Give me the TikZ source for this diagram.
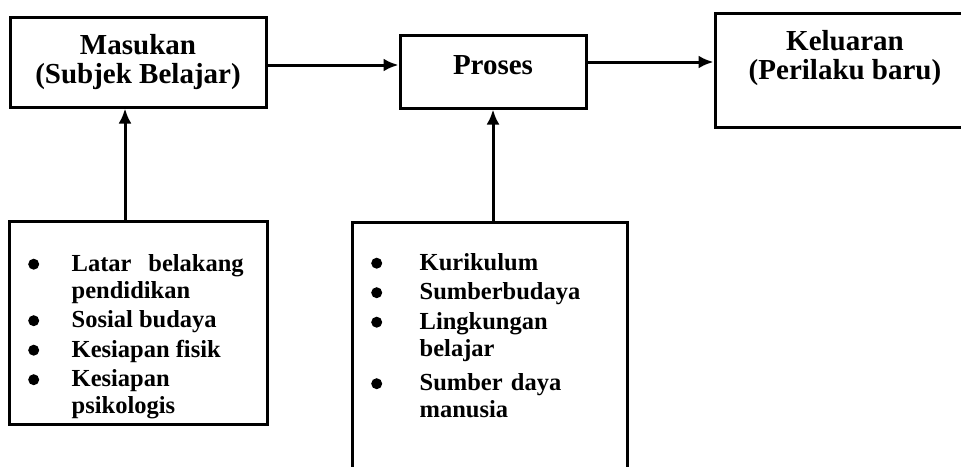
\documentclass[tikz,border=0pt]{standalone}
\usepackage{fontspec}
\setmainfont{Liberation Serif}
\usepackage{enumitem}
\usetikzlibrary{shapes,arrows.meta,positioning}
\hyphenpenalty=10000
\exhyphenpenalty=10000
\newcommand{\dotmark}{\tikz[baseline=-7pt]\fill (0,0) circle (5.5pt);}
\setlist[itemize]{label=\dotmark, itemsep=2.5pt, parsep=0pt, topsep=0pt, partopsep=0pt}
\tikzstyle{block} = [draw, rectangle, fill=white, line width=3pt, inner sep=0pt, align=center, font=\bfseries\fontsize{29}{29}\selectfont]
\tikzstyle{input} = [inner sep=0pt, align=center, font=\bfseries\fontsize{29}{29}\selectfont]
\tikzstyle{items} = [anchor=north west, inner sep=0pt, font=\bfseries\fontsize{24.5}{27}\selectfont]

\begin{document}
\begin{tikzpicture}[x=1pt, y=-1pt, line width=3pt, >={Latex[length=15pt,width=13pt]}]
    \useasboundingbox (0,0) rectangle (961,466);
    \clip (0,0) rectangle (961,466);

    \node [block, minimum width=256pt, minimum height=90pt] (masukan) at (138,62) {Masukan\\(Subjek Belajar)};
    \node [block, minimum width=186pt, minimum height=73pt, text depth=12pt] (proses) at (493,71.5) {Proses};
    \node [block, minimum width=260pt, minimum height=114pt] (keluaran) at (845,70) {};
    \node [input] (keluarantext) at ([yshift=12pt]keluaran.center) {Keluaran\\(Perilaku baru)};
    \draw [->] ([yshift=-3pt]masukan.east) -- ([yshift=-3pt]masukan.east -| proses.west);
    \draw [->] (proses.east |- masukan.east) -- (masukan.east -| keluaran.west);

    \node [block, minimum width=258pt, minimum height=203pt] (latar) at (138,322.5) {};
    \node [items, text width=235pt, align=justify] (latarlist) at ([xshift=1pt, yshift=-24.5pt]latar.north west) {%
        \begin{itemize}[leftmargin=63pt, labelsep=32.5pt]
            \item Latar belakang pendidikan
            \item Sosial budaya
            \item Kesiapan fisik
            \item Kesiapan psikologis
        \end{itemize}};
    \draw [->] ([xshift=-13pt]latar.north) -- ([xshift=-13pt]masukan.south);

    \node [block, minimum width=275pt, minimum height=300pt] (sumber) at (489.5,372) {};
    \node [items, text width=248pt] (sumberlist) at ([xshift=1pt, yshift=-22.5pt]sumber.north west) {%
        \raggedright
        \begin{itemize}[leftmargin=68pt, labelsep=37.5pt]
            \item Kurikulum
            \item Sumberbudaya
            \item Lingkungan belajar
            \vspace{5pt}
            \item Sumber daya manusia
        \end{itemize}};
    \draw [->] (sumber.north -| proses.south) -- (proses.south);
\end{tikzpicture}
\end{document}
